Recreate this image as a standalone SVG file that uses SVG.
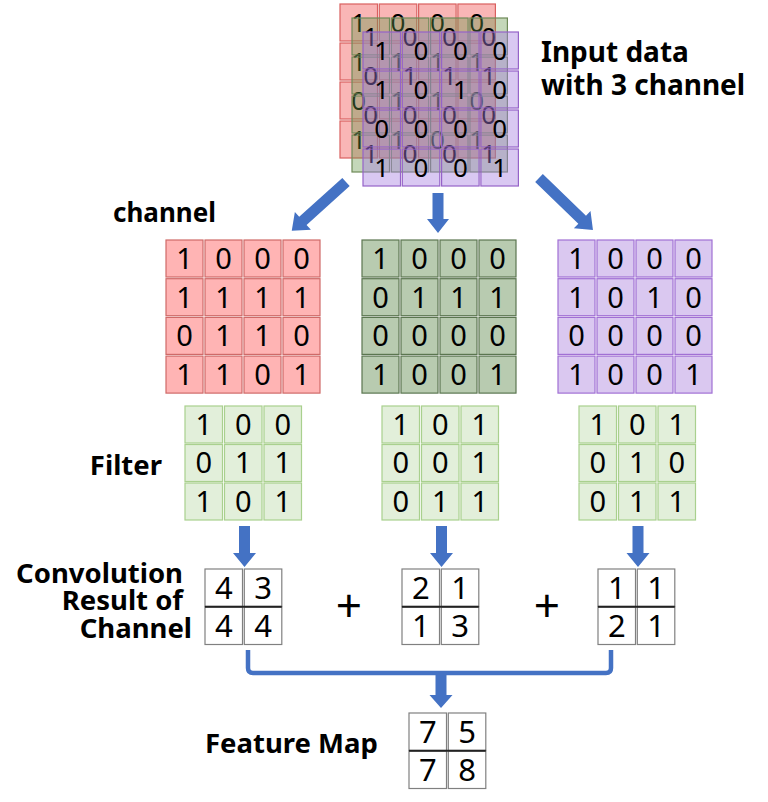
<svg xmlns="http://www.w3.org/2000/svg" width="768" height="802" viewBox="0 0 768 802">
<style>
  text { font-family: "Noto Sans", "Open Sans", "Liberation Sans", sans-serif; fill: #000; stroke: none; }
  .lbl { font-weight: bold; font-size: 27.5px; }
  .d { font-size: 29px; text-anchor: middle; }
  .ds { font-size: 26px; text-anchor: middle; }
  .dr { font-size: 31px; text-anchor: middle; }
  use { stroke-width: 1.2; }
  .sr use { fill: rgba(240,80,80,0.42); stroke: #d9605f; }
  .sg use { fill: rgba(100,150,70,0.38); stroke: #6e8a58; }
  .sp use { fill: rgba(165,125,225,0.42); stroke: #9563c8; }
  .cr use { fill: #ffb4b4; stroke: #cf6a68; }
  .cg use { fill: #b8cbb0; stroke: #5b7650; }
  .cp use { fill: #dac8f0; stroke: #a170d4; }
  .fl use { fill: #e2efda; stroke: #a9d08e; }
  .rs use { fill: #ffffff; stroke: #808080; }
  .arr { fill: #4472c4; }
  .br { fill: none; stroke: #4472c4; stroke-width: 4.5; }
</style>
<defs>
  <g id="stk">
    <rect x="0" y="0" width="37.5" height="37"/><rect x="39.3" y="0" width="37.5" height="37"/><rect x="78.6" y="0" width="37.5" height="37"/><rect x="117.9" y="0" width="37.5" height="37"/>
    <rect x="0" y="39" width="37.5" height="37"/><rect x="39.3" y="39" width="37.5" height="37"/><rect x="78.6" y="39" width="37.5" height="37"/><rect x="117.9" y="39" width="37.5" height="37"/>
    <rect x="0" y="78" width="37.5" height="37"/><rect x="39.3" y="78" width="37.5" height="37"/><rect x="78.6" y="78" width="37.5" height="37"/><rect x="117.9" y="78" width="37.5" height="37"/>
    <rect x="0" y="117" width="37.5" height="37"/><rect x="39.3" y="117" width="37.5" height="37"/><rect x="78.6" y="117" width="37.5" height="37"/><rect x="117.9" y="117" width="37.5" height="37"/>
  </g>
  <g id="c4">
    <rect x="0" y="0" width="37" height="37"/><rect x="39" y="0" width="37" height="37"/><rect x="78" y="0" width="37" height="37"/><rect x="117" y="0" width="37" height="37"/>
    <rect x="0" y="38.7" width="37" height="37"/><rect x="39" y="38.7" width="37" height="37"/><rect x="78" y="38.7" width="37" height="37"/><rect x="117" y="38.7" width="37" height="37"/>
    <rect x="0" y="77.4" width="37" height="37"/><rect x="39" y="77.4" width="37" height="37"/><rect x="78" y="77.4" width="37" height="37"/><rect x="117" y="77.4" width="37" height="37"/>
    <rect x="0" y="116.1" width="37" height="37"/><rect x="39" y="116.1" width="37" height="37"/><rect x="78" y="116.1" width="37" height="37"/><rect x="117" y="116.1" width="37" height="37"/>
  </g>
  <g id="f3">
    <rect x="0" y="0" width="37.5" height="37"/><rect x="39.5" y="0" width="37.5" height="37"/><rect x="79" y="0" width="37.5" height="37"/>
    <rect x="0" y="38.5" width="37.5" height="37"/><rect x="39.5" y="38.5" width="37.5" height="37"/><rect x="79" y="38.5" width="37.5" height="37"/>
    <rect x="0" y="77" width="37.5" height="37"/><rect x="39.5" y="77" width="37.5" height="37"/><rect x="79" y="77" width="37.5" height="37"/>
  </g>
  <g id="r2">
    <rect x="0" y="0" width="37.5" height="37.5"/><rect x="39.3" y="0" width="37.5" height="37.5"/>
    <rect x="0" y="38" width="37.5" height="37.5"/><rect x="39.3" y="38" width="37.5" height="37.5"/>
    <line x1="0" y1="37.75" x2="76.8" y2="37.75" stroke="#222" stroke-width="1.8"/>
  </g>
</defs>

<g id="input-stack">
  <g class="sr" transform="translate(340,4)">
    <use href="#stk"/>
    <g class="ds" transform="translate(0,0.7)">
      <text x="18.75" y="27.1">1</text><text x="58.05" y="27.1">0</text><text x="97.35" y="27.1">0</text><text x="136.65" y="27.1">0</text>
      <text x="18.75" y="66.1">1</text><text x="58.05" y="66.1">1</text><text x="97.35" y="66.1">1</text><text x="136.65" y="66.1">1</text>
      <text x="18.75" y="105.1">0</text><text x="58.05" y="105.1">1</text><text x="97.35" y="105.1">1</text><text x="136.65" y="105.1">0</text>
      <text x="18.75" y="144.1">1</text><text x="58.05" y="144.1">1</text><text x="97.35" y="144.1">0</text><text x="136.65" y="144.1">1</text>
    </g>
  </g>
  <g class="sg" transform="translate(352,18)">
    <use href="#stk"/>
    <g class="ds" transform="translate(0,0.7)">
      <text x="18.75" y="27.1">1</text><text x="58.05" y="27.1">0</text><text x="97.35" y="27.1">0</text><text x="136.65" y="27.1">0</text>
      <text x="18.75" y="66.1">0</text><text x="58.05" y="66.1">1</text><text x="97.35" y="66.1">1</text><text x="136.65" y="66.1">1</text>
      <text x="18.75" y="105.1">0</text><text x="58.05" y="105.1">0</text><text x="97.35" y="105.1">0</text><text x="136.65" y="105.1">0</text>
      <text x="18.75" y="144.1">1</text><text x="58.05" y="144.1">0</text><text x="97.35" y="144.1">0</text><text x="136.65" y="144.1">1</text>
    </g>
  </g>
  <g class="sp" transform="translate(363,32)">
    <use href="#stk"/>
    <g class="ds" transform="translate(0,0.7)">
      <text x="18.75" y="27.1">1</text><text x="58.05" y="27.1">0</text><text x="97.35" y="27.1">0</text><text x="136.65" y="27.1">0</text>
      <text x="18.75" y="66.1">1</text><text x="58.05" y="66.1">0</text><text x="97.35" y="66.1">1</text><text x="136.65" y="66.1">0</text>
      <text x="18.75" y="105.1">0</text><text x="58.05" y="105.1">0</text><text x="97.35" y="105.1">0</text><text x="136.65" y="105.1">0</text>
      <text x="18.75" y="144.1">1</text><text x="58.05" y="144.1">0</text><text x="97.35" y="144.1">0</text><text x="136.65" y="144.1">1</text>
    </g>
  </g>
</g>

<g id="labels">
  <text class="lbl" x="541" y="62" style="font-size:28px">Input data</text>
  <text class="lbl" x="541" y="95" style="font-size:28px">with 3 channel</text>
  <text class="lbl" x="113" y="222" style="font-size:26px">channel</text>
  <text class="lbl" x="162" y="475" text-anchor="end">Filter</text>
  <text class="lbl" x="183" y="583" text-anchor="end">Convolution</text>
  <text class="lbl" x="183" y="610" text-anchor="end">Result of</text>
  <text class="lbl" x="192" y="638" text-anchor="end">Channel</text>
  <text class="lbl" x="205" y="753">Feature Map</text>
  <text x="349" y="622" style="font-size:46px" text-anchor="middle">+</text>
  <text x="547" y="622" style="font-size:46px" text-anchor="middle">+</text>
</g>

<g id="channel-red" class="cr" transform="translate(166,240)">
  <use href="#c4"/>
  <g class="d" transform="translate(0,0.8)">
    <text x="18.5" y="28.1">1</text><text x="57.5" y="28.1">0</text><text x="96.5" y="28.1">0</text><text x="135.5" y="28.1">0</text>
    <text x="18.5" y="66.8">1</text><text x="57.5" y="66.8">1</text><text x="96.5" y="66.8">1</text><text x="135.5" y="66.8">1</text>
    <text x="18.5" y="105.5">0</text><text x="57.5" y="105.5">1</text><text x="96.5" y="105.5">1</text><text x="135.5" y="105.5">0</text>
    <text x="18.5" y="144.2">1</text><text x="57.5" y="144.2">1</text><text x="96.5" y="144.2">0</text><text x="135.5" y="144.2">1</text>
  </g>
</g>
<g id="channel-green" class="cg" transform="translate(362,240)">
  <use href="#c4"/>
  <g class="d" transform="translate(0,0.8)">
    <text x="18.5" y="28.1">1</text><text x="57.5" y="28.1">0</text><text x="96.5" y="28.1">0</text><text x="135.5" y="28.1">0</text>
    <text x="18.5" y="66.8">0</text><text x="57.5" y="66.8">1</text><text x="96.5" y="66.8">1</text><text x="135.5" y="66.8">1</text>
    <text x="18.5" y="105.5">0</text><text x="57.5" y="105.5">0</text><text x="96.5" y="105.5">0</text><text x="135.5" y="105.5">0</text>
    <text x="18.5" y="144.2">1</text><text x="57.5" y="144.2">0</text><text x="96.5" y="144.2">0</text><text x="135.5" y="144.2">1</text>
  </g>
</g>
<g id="channel-purple" class="cp" transform="translate(558,240)">
  <use href="#c4"/>
  <g class="d" transform="translate(0,0.8)">
    <text x="18.5" y="28.1">1</text><text x="57.5" y="28.1">0</text><text x="96.5" y="28.1">0</text><text x="135.5" y="28.1">0</text>
    <text x="18.5" y="66.8">1</text><text x="57.5" y="66.8">0</text><text x="96.5" y="66.8">1</text><text x="135.5" y="66.8">0</text>
    <text x="18.5" y="105.5">0</text><text x="57.5" y="105.5">0</text><text x="96.5" y="105.5">0</text><text x="135.5" y="105.5">0</text>
    <text x="18.5" y="144.2">1</text><text x="57.5" y="144.2">0</text><text x="96.5" y="144.2">0</text><text x="135.5" y="144.2">1</text>
  </g>
</g>

<g id="filter-1" class="fl" transform="translate(185,406)">
  <use href="#f3"/>
  <g class="d" transform="translate(0,0.8)">
    <text x="18.75" y="28.1">1</text><text x="58.25" y="28.1">0</text><text x="97.75" y="28.1">0</text>
    <text x="18.75" y="66.6">0</text><text x="58.25" y="66.6">1</text><text x="97.75" y="66.6">1</text>
    <text x="18.75" y="105.1">1</text><text x="58.25" y="105.1">0</text><text x="97.75" y="105.1">1</text>
  </g>
</g>
<g id="filter-2" class="fl" transform="translate(382,406)">
  <use href="#f3"/>
  <g class="d" transform="translate(0,0.8)">
    <text x="18.75" y="28.1">1</text><text x="58.25" y="28.1">0</text><text x="97.75" y="28.1">1</text>
    <text x="18.75" y="66.6">0</text><text x="58.25" y="66.6">0</text><text x="97.75" y="66.6">1</text>
    <text x="18.75" y="105.1">0</text><text x="58.25" y="105.1">1</text><text x="97.75" y="105.1">1</text>
  </g>
</g>
<g id="filter-3" class="fl" transform="translate(579,406)">
  <use href="#f3"/>
  <g class="d" transform="translate(0,0.8)">
    <text x="18.75" y="28.1">1</text><text x="58.25" y="28.1">0</text><text x="97.75" y="28.1">1</text>
    <text x="18.75" y="66.6">0</text><text x="58.25" y="66.6">1</text><text x="97.75" y="66.6">0</text>
    <text x="18.75" y="105.1">0</text><text x="58.25" y="105.1">1</text><text x="97.75" y="105.1">1</text>
  </g>
</g>

<g id="result-1" class="rs" transform="translate(205,569)">
  <use href="#r2"/>
  <g class="dr" transform="translate(0,1)">
    <text x="18.75" y="28.8">4</text><text x="58" y="28.8">3</text>
    <text x="18.75" y="66.8">4</text><text x="58" y="66.8">4</text>
  </g>
</g>
<g id="result-2" class="rs" transform="translate(402,569)">
  <use href="#r2"/>
  <g class="dr" transform="translate(0,1)">
    <text x="18.75" y="28.8">2</text><text x="58" y="28.8">1</text>
    <text x="18.75" y="66.8">1</text><text x="58" y="66.8">3</text>
  </g>
</g>
<g id="result-3" class="rs" transform="translate(598,569)">
  <use href="#r2"/>
  <g class="dr" transform="translate(0,1)">
    <text x="18.75" y="28.8">1</text><text x="58" y="28.8">1</text>
    <text x="18.75" y="66.8">2</text><text x="58" y="66.8">1</text>
  </g>
</g>
<g id="feature-map" class="rs" transform="translate(409,713)">
  <use href="#r2"/>
  <g class="dr" transform="translate(0,1)">
    <text x="18.75" y="28.8">7</text><text x="58" y="28.8">5</text>
    <text x="18.75" y="66.8">7</text><text x="58" y="66.8">8</text>
  </g>
</g>

<g id="connectors">
  <path class="arr" transform="translate(346,182) rotate(48)" d="M-5.5,0 H5.5 V58 H12 L0,73 L-12,58 H-5.5 Z"/>
  <path class="arr" transform="translate(438,193)" d="M-5.5,0 H5.5 V26 H11 L0,40 L-11,26 H-5.5 Z"/>
  <path class="arr" transform="translate(539,178) rotate(-46)" d="M-5.5,0 H5.5 V60 H12 L0,75 L-12,60 H-5.5 Z"/>
  <path class="arr" transform="translate(244.5,526)" d="M-5.5,0 H5.5 V27 H11.5 L0,41 L-11.5,27 H-5.5 Z"/>
  <path class="arr" transform="translate(441.5,526)" d="M-5.5,0 H5.5 V27 H11.5 L0,41 L-11.5,27 H-5.5 Z"/>
  <path class="arr" transform="translate(638,526)" d="M-5.5,0 H5.5 V27 H11.5 L0,41 L-11.5,27 H-5.5 Z"/>
  <path class="br" d="M248,650 V668 Q248,673 253,673 H606 Q611,673 611,668 V650"/>
  <path class="arr" transform="translate(441,671)" d="M-5.5,0 H5.5 V24 H11.5 L0,37 L-11.5,24 H-5.5 Z"/>
</g>
</svg>
